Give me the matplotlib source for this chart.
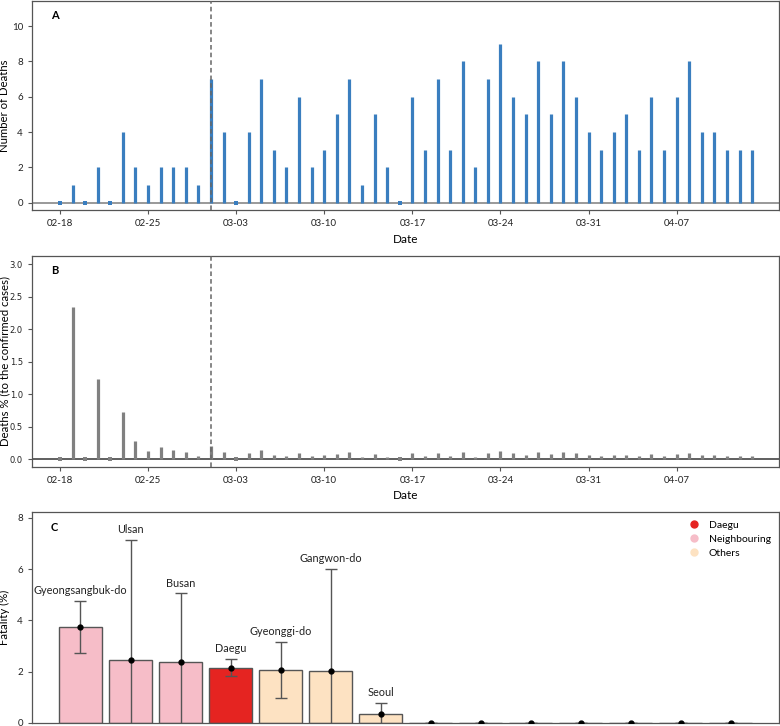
import numpy as np
import matplotlib
matplotlib.use("Agg")
from matplotlib import pyplot as plt
import matplotlib.dates as mdates
from matplotlib.lines import Line2D
import datetime as dt

plt.rcParams['font.family'] = ['Lato', 'DejaVu Sans']

# daily data, 2020-02-18 .. 2020-04-13
START = dt.date(2020, 2, 18)
deaths = [0, 1, 0, 2, 0, 4, 2, 1, 2, 2, 2, 1, 7, 4, 0, 4, 7, 3, 2, 6, 2, 3, 5, 7, 1, 5, 2, 0,
          6, 3, 7, 3, 8, 2, 7, 9, 6, 5, 8, 5, 8, 6, 4, 3, 4, 5, 3, 6, 3, 6, 8, 4, 4, 3, 3, 3]
death_pct = [0.0, 2.34, 0.0, 1.24, 0.0, 0.73, 0.28, 0.13, 0.19, 0.14, 0.11, 0.05, 0.20, 0.11,
             0.0, 0.09, 0.14, 0.07, 0.05, 0.10, 0.05, 0.06, 0.08, 0.11, 0.03, 0.08, 0.04, 0.0,
             0.09, 0.05, 0.10, 0.05, 0.11, 0.03, 0.10, 0.12, 0.09, 0.07, 0.11, 0.08, 0.11, 0.09,
             0.06, 0.05, 0.06, 0.07, 0.05, 0.08, 0.05, 0.08, 0.10, 0.07, 0.07, 0.05, 0.05, 0.05]
dates = [START + dt.timedelta(days=i) for i in range(len(deaths))]
marker_date = dt.date(2020, 3, 1)
tick_dates = [dt.date(2020, 2, 18), dt.date(2020, 2, 25), dt.date(2020, 3, 3), dt.date(2020, 3, 10),
              dt.date(2020, 3, 17), dt.date(2020, 3, 24), dt.date(2020, 3, 31), dt.date(2020, 4, 7)]

# fatality by region
regions = ['Gyeongsangbuk-do', 'Ulsan', 'Busan', 'Daegu', 'Gyeonggi-do', 'Gangwon-do', 'Seoul',
           'Gyeongsangnam-do', 'Incheon', 'Daejeon', 'Gwangju', 'Chungcheongbuk-do',
           'Chungcheongnam-do', 'Jeollabuk-do']
group = ['Neighbouring', 'Neighbouring', 'Neighbouring', 'Daegu', 'Others', 'Others', 'Others',
         'Neighbouring', 'Others', 'Others', 'Others', 'Others', 'Others', 'Others']
fatality = [3.73, 2.44, 2.38, 2.14, 2.05, 2.03, 0.33, 0, 0, 0, 0, 0, 0, 0]
ci_low = [2.72, -2.3, -0.3, 1.82, 0.96, -1.9, -0.1, 0, 0, 0, 0, 0, 0, 0]
ci_high = [4.75, 7.15, 5.05, 2.49, 3.17, 6.0, 0.77, 0, 0, 0, 0, 0, 0, 0]
group_colors = {'Daegu': '#e52421', 'Neighbouring': '#f6bdc8', 'Others': '#fde2c2'}

SPINE = '#555555'


def style_axes(ax):
    for s in ax.spines.values():
        s.set_color(SPINE)
        s.set_linewidth(0.9)
    ax.tick_params(colors=SPINE, labelcolor='#222222', labelsize=7, length=3, width=0.8)
    ax.yaxis.set_label_coords(-0.029, 0.5)


def time_panel(ax, values, color, ylim, yticks, ylabel, letter, zero_color):
    x = mdates.date2num(dates)
    v = np.array(values)
    ax.axhline(0, color=zero_color, lw=1.2, zorder=1)
    ax.vlines(x, 0, v, color=color, lw=2.3, zorder=2)
    ax.plot(x[v == 0], v[v == 0], 's', color=color, ms=2.4, mew=0, zorder=2)
    ax.axvline(mdates.date2num(marker_date), color='#666666', ls=(0, (3, 2)), lw=1.1, zorder=3)
    ax.set_xlim(mdates.date2num(dt.date(2020, 2, 18)) - 2.22,
                mdates.date2num(dt.date(2020, 2, 18)) + 57.15)
    ax.set_ylim(*ylim)
    ax.set_yticks(yticks)
    ax.set_xticks(mdates.date2num(tick_dates))
    ax.xaxis.set_major_formatter(mdates.DateFormatter('%m-%d'))
    ax.set_xlabel('Date', fontsize=8.5, labelpad=4)
    ax.set_ylabel(ylabel, fontsize=8.2)
    ax.text(0.025, 0.955, letter, transform=ax.transAxes, fontsize=8, fontweight='bold',
            va='top', ha='left')
    style_axes(ax)


fig = plt.figure(figsize=(7.8, 7.26), dpi=100)
axA = fig.add_axes([0.041, 0.7107, 0.958, 0.2886])
axB = fig.add_axes([0.041, 0.3572, 0.958, 0.2902])
axC = fig.add_axes([0.041, 0.0045, 0.958, 0.2898])

time_panel(axA, deaths, '#3a7ebf', (-0.42, 11.45), [0, 2, 4, 6, 8, 10],
           'Number of Deaths', 'A', '#888888')
b_ticks = np.arange(0, 3.01, 0.5)
time_panel(axB, death_pct, '#808080', (-0.115, 3.13), b_ticks,
           'Deaths % (to the confirmed cases)', 'B', '#444444')
axB.set_yticklabels([f'{t:.1f}' for t in b_ticks], family='DejaVu Sans', fontsize=6)

# panel C
xc = np.arange(len(regions))
cols = [group_colors[g] for g in group]
axC.bar(xc, fatality, width=0.85, color=cols, edgecolor='#555555', linewidth=1.0, zorder=2)
err = [np.array(fatality) - np.array(ci_low), np.array(ci_high) - np.array(fatality)]
axC.errorbar(xc, fatality, yerr=err, fmt='o', color='black', ms=3.5, ecolor='#555555',
             elinewidth=1.0, capsize=4, capthick=1.0, zorder=3)
for xi, name, v, hi in zip(xc, regions, fatality, ci_high):
    if v > 0:
        axC.text(xi, hi + 0.4, name, ha='center', va='center', fontsize=7.8, color='#222222')
axC.set_xlim(-0.97, len(regions) - 1 + 0.97)
axC.set_ylim(0, 8.22)
axC.set_yticks([0, 2, 4, 6, 8])
axC.set_xticks([])
axC.set_ylabel('Fatality (%)', fontsize=8.2)
axC.text(0.025, 0.955, 'C', transform=axC.transAxes, fontsize=8, fontweight='bold',
         va='top', ha='left')
style_axes(axC)
handles = [Line2D([], [], marker='o', ls='', color=group_colors[g], ms=5, label=g)
           for g in ['Daegu', 'Neighbouring', 'Others']]
axC.legend(handles=handles, loc='upper right', frameon=False, fontsize=7.5,
           handletextpad=0.4, borderaxespad=0.4, labelspacing=0.45)

fig.savefig('out.png', dpi=100)
